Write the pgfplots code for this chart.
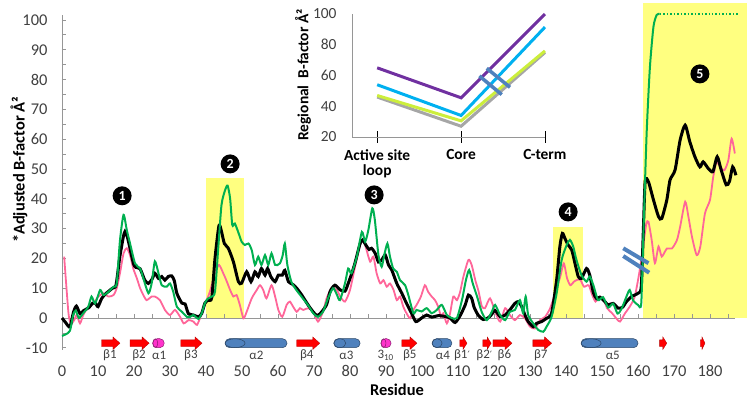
\documentclass[border=0pt]{standalone}
\usepackage{fontspec}
\setmainfont{Carlito}
\newfontfamily\dejavu{DejaVu Sans}
\usepackage{pgfplots}
\pgfplotsset{compat=1.18}
\definecolor{mygreen}{RGB}{0,176,80}
\definecolor{mypink}{RGB}{255,102,153}
\definecolor{hiyellow}{RGB}{255,255,128}
\definecolor{sblue}{RGB}{79,129,189}
\definecolor{ssred}{RGB}{255,0,0}
\definecolor{ssmag}{RGB}{255,51,204}
\definecolor{ipurple}{RGB}{112,48,160}
\definecolor{icyan}{RGB}{0,176,240}
\definecolor{ilime}{RGB}{204,238,60}
\definecolor{igray}{RGB}{166,166,166}
\definecolor{axisgray}{RGB}{150,150,150}
\definecolor{textgray}{RGB}{64,64,64}
\newcommand{\barrow}[3]{%
 \filldraw[fill=ssred, draw=ssred!70!black, line width=0.3bp]
 (axis cs:#1,-9.56) -- (axis cs:#2,-9.56) -- (axis cs:#2,-10.56) -- (axis cs:#3,-8.45) -- (axis cs:#2,-6.34) -- (axis cs:#2,-7.34) -- (axis cs:#1,-7.34) -- cycle;}
\newcommand{\helix}[5]{%
 \filldraw[fill=#3, draw=#3!55!black, line width=0.5bp, rounded corners=4.4bp] (axis cs:#1,-6.95) rectangle (axis cs:#2,-9.95);
 \draw[#3!55!black, line width=0.5bp] (axis cs:#4,-8.45) ellipse [x radius=#5, y radius=4.4bp];}
\newcommand{\ssl}[2]{\node[font=\fontsize{13}{14}\selectfont, text=textgray, inner sep=0pt] at (axis cs:#1,-12.4) {#2};}
\newcommand{\pr}{{\dejavu\fontsize{10}{10}\selectfont ′}}
\newcommand{\cnum}[3]{\node[circle, fill=black, text=white, inner sep=0pt, minimum size=19bp, font=\bfseries\fontsize{14}{15}\selectfont] at (axis cs:#1,#2) {#3};}
\begin{document}
\begin{tikzpicture}
\begin{axis}[name=main, at={(0,0)}, anchor=south west, scale only axis,
 width=673.2bp, height=335bp, xmin=0, xmax=187, ymin=-10.7, ymax=101.7,
 enlargelimits=false, clip=false,
 axis x line*=bottom, axis y line*=left,
 x axis line style={draw=none}, y axis line style={draw=axisgray, line width=0.8bp},
 xtick=\empty, ytick={-10,0,...,100}, minor y tick num=1,
 y tick style={axisgray, line width=0.8bp},
 tick align=inside, major tick length=4bp, minor tick length=4bp,
 ticklabel style={font=\fontsize{16.5}{18}\selectfont, text=textgray},
 /pgf/number format/assume math mode=true,
 yticklabel style={xshift=-11bp}]
% highlight regions
\addplot[fill=hiyellow, draw=none] coordinates {(40,0)(40,47)(50.5,47)(50.5,0)} -- cycle;
\addplot[fill=hiyellow, draw=none] coordinates {(136.4,0)(136.4,30.5)(144.7,30.5)(144.7,0)} -- cycle;
\addplot[fill=hiyellow, draw=none] coordinates {(161.4,0)(161.4,105.7)(190.3,105.7)(190.3,0)} -- cycle;
% zero line, ticks and tick labels
\addplot[axisgray, line width=0.8bp] coordinates {(0,0)(187,0)};
\pgfplotsinvokeforeach{5,10,...,185}{\draw[axisgray, line width=0.8bp] (axis cs:#1,0) -- (axis cs:#1,1.3);}
\pgfplotsinvokeforeach{0,10,...,180}{\node[font=\fontsize{16.5}{18}\selectfont, text=textgray, inner sep=0pt] at (axis cs:#1,-17.8) {#1};}
% pink
\addplot[mypink, line width=1.8bp, smooth, tension=0.4] coordinates {
(0.6,20.6) (1.8,1.6) (2.5,-1.8) (3.4,-0.7) (4.1,1) (5,-1.8) (5.9,1) (7.3,3.8) (8.7,4.9) (10.1,7.2) (11.5,8.3) (12.9,7.2) (14.3,7.7) (15.2,10) (16.1,15) (17.1,21.7) (18,23.4) (18.9,21.1) (19.8,16.6) (20.8,13.3) (21.7,10) (22.6,7.7) (23.5,6) (24.9,7.2) (25.8,7.2) (27.2,6) (28.6,2.7) (30,1) (31.4,2.7) (32.8,0.4) (33.8,-1.8) (35.2,-0.7) (36.5,-1.2) (37.5,-2.3) (38.5,0.5) (39.7,4.4) (41.1,8.9) (42.5,15) (43.6,17.8) (44.8,15) (45.8,12.2) (46.7,9.4) (47.6,7.2) (48.5,7.7) (49.4,4.4) (50.4,-0.1) (51.3,2.1) (52.7,6.6) (54.1,9.4) (55,11) (55.9,9.4) (56.8,6.6) (58.2,11) (59.2,7.2) (60.1,2.7) (61.2,0.4) (62.4,4.4) (63.3,5.5) (64.2,3.8) (65.2,2.1) (66.1,3.3) (67,2.7) (68.4,3.3) (69.8,2.1) (71.1,-1.2) (72.5,2.1) (73.5,6.6) (74.9,10) (76.3,9.4) (77.4,7) (78.6,5.5) (80,9.4) (81.4,17.2) (82.8,24.5) (83.7,26.2) (84.6,22.8) (85.6,18.9) (86.5,20.6) (87.4,15) (88.4,11.6) (89.3,12.7) (90.2,10.5) (91.1,11.6) (92.1,9.4) (93,6) (93.9,7.2) (94.8,3.8) (95.7,1.6) (96.7,-0.1) (97.6,2.7) (98.5,4.4) (99.7,7.2) (100.8,11) (101.7,8.8) (102.7,7.2) (103.6,6) (104.5,3.8) (105.3,0.4) (105.9,1.6) (106.9,-1.8) (107.8,1.6) (108.7,7.2) (109.7,6) (110.6,8.8) (111.5,13.9) (112.9,19.5) (113.8,17.8) (114.8,12.7) (115.7,9) (116.6,4) (117.5,3.3) (118.9,6.6) (120.3,2.1) (121.7,-1.2) (123.1,3.3) (124.4,1) (125.8,-0.7) (127.2,1) (128.6,-0.1) (130,-2.9) (131.4,-3.5) (132.8,-0.7) (134.2,0.4) (135.6,3.3) (137,8.3) (138.4,13.9) (139.4,18.3) (140.3,13.3) (141.2,11) (142.2,12.2) (143.1,12.8) (144,12.8) (145,10.5) (146.3,11) (147.3,7.7) (148.2,5.5) (149.1,6.6) (150.5,6) (151.4,3.3) (152.8,1.6) (154.1,-0.3) (155,-1.2) (156.4,1.6) (157.7,3.8) (159.1,7.2) (160.4,15.5) (161.4,24) (162.3,31.5) (162.9,32.3) (163.8,26.2) (164.7,18.4) (165.7,24) (166.6,20.6) (168,23.3) (169.4,23.3) (170.8,26.1) (171.7,30.6) (173.1,39) (174,34) (175,27.2) (176.3,21.1) (177.3,23.9) (178.6,35.1) (180,39.6) (180.9,47.4) (181.8,52.4) (182.8,50.7) (184,49.6) (185.1,53) (186,60.2) (186.9,55.2)};
% black
\addplot[black, line width=3bp, smooth, tension=0.4] coordinates {
(0,0) (1,-1.5) (2.2,-3) (3.2,2) (4,4) (5,1.5) (6,2.5) (7.5,3.5) (8.5,5) (9.3,5) (10,3.8) (11,6.5) (12,8) (13,9) (14,10) (15,11) (16,20) (17,27) (17.5,29) (18.2,27) (19.8,18.5) (20.5,17) (21.7,16.5) (23,12.7) (24,11.6) (25,13) (25.8,15) (26.8,13.3) (27.7,13.9) (28.6,12.7) (29.5,13.9) (30.5,14.1) (31.2,12.5) (31.9,8.3) (33.3,5) (34.2,4.7) (35.1,1.5) (36.5,1) (37.9,0.4) (38.8,1.5) (39.7,5) (40.6,6) (41.6,6.8) (42.5,20) (43.6,31) (44.3,29) (45.1,25) (46.2,23.4) (47.6,18.9) (49,12.2) (49.9,11.7) (51.3,15.5) (52.5,12.2) (53.6,15.5) (54.5,13.9) (55.4,16.6) (56.4,14.4) (57.1,16.6) (58,13.9) (59.2,12.2) (60.1,14.4) (61.2,14.4) (61.9,16) (62.9,12.2) (64.2,11.2) (65.2,10) (66.6,7.7) (68.4,4.3) (69.8,2) (70.9,0.8) (72.1,2) (73.5,4.5) (74.5,9) (75.8,11) (77.2,9.5) (78.6,9) (79.5,11.6) (80.5,15) (81.4,18.5) (82.8,25) (83.5,26.2) (84.4,24.5) (85.3,23) (86,23.4) (87,21.7) (87.9,18.8) (88.8,19.5) (89.8,21.1) (90.7,17.8) (91.6,16.1) (93,11.6) (94.4,8.3) (95.7,4.9) (97.1,1.6) (98.3,-1.2) (99.9,0) (101.3,1) (102.7,0.3) (104.5,0.8) (106.5,0.5) (107.8,0) (109.2,-1.5) (110.6,0.8) (112,4.4) (112.9,7.7) (113.8,6.6) (114.5,3.5) (115.7,0.8) (117,-0.5) (118.3,0) (119.2,1) (120.3,2.5) (121.7,0.5) (123.1,1) (124.4,2.7) (125.8,4.9) (126.8,5.5) (127.7,3.8) (128.6,1) (129.5,-1.2) (130.9,-2.9) (131.8,-1.8) (133.2,-1.2) (134.6,-0.1) (136,1.6) (137.4,12.8) (138.3,24) (139,28.4) (139.7,26.7) (140.6,24.5) (141.6,22.8) (142.5,18.3) (143.4,13.9) (144.3,13.3) (145.7,16.6) (146.6,14.4) (147.6,8.5) (148.5,6.5) (149.4,7) (150.8,5.5) (151.7,4.4) (153.1,4.9) (154.5,3.3) (155.7,3.6) (156.8,5.5) (158.2,7.2) (160,8.3) (160.9,10.5) (161.5,30) (162,46) (162.9,45.7) (164.3,39.6) (165.7,34) (166.6,33.4) (168,39.6) (168.9,46.3) (170.3,49.7) (171.7,59.7) (173.1,64.7) (174.4,59.1) (175.8,54.1) (177.2,50.7) (178.1,52.4) (179.5,50.2) (180.8,49.1) (182,54.1) (183.1,49.7) (184.5,44.7) (185.4,45.8) (186.3,50.7) (187.2,47.9)};
% green
\addplot[mygreen, line width=2bp, smooth, tension=0.4] coordinates {
(0,-6) (1,-5.5) (2.2,-4.3) (3.1,1) (3.8,2.5) (4.7,0) (5.9,1.6) (7.3,3.8) (8.2,7.2) (9.2,4.9) (10.6,9.4) (11.5,7.7) (12.9,8.8) (14.3,10.5) (15.2,11.6) (16.1,26) (17.1,34.6) (18,29.5) (18.9,25) (20.3,18.3) (21.7,16.6) (22.6,13.3) (24,8.3) (24.9,11.6) (25.8,19) (26.8,15) (27.7,11) (29.1,10.5) (30,11.6) (30.9,8.8) (31.9,3.8) (33.3,2.1) (34.7,0.4) (35.6,0.4) (36.5,1) (37.9,-0.3) (38.8,1.5) (39.7,5) (40.5,6.5) (41.6,7.2) (42.5,8.9) (43.4,23.4) (44.3,37.9) (45.3,42.9) (46,44.4) (46.7,40.1) (47.3,31.2) (48,31.7) (48.9,29) (49.9,25.6) (50.8,24.5) (51.8,25) (52.7,22.8) (53.6,17.8) (54.5,20.6) (55.4,17.8) (56.4,21.1) (57.3,17.8) (58.2,21.7) (59.2,17.8) (60.5,18.3) (61.3,21) (61.9,25) (62.6,17.8) (63.7,12.2) (65.1,9.4) (66.5,7.2) (68.3,4.4) (69.8,1.6) (71.1,0.4) (72.5,2.1) (73.9,6.6) (75.3,10) (76.3,8) (77.2,6) (78.6,11.6) (79.5,16.6) (80.4,15) (81.9,20.6) (83.3,28.9) (84.2,25.6) (85.1,29.5) (86.2,36.8) (86.9,32.9) (87.9,21.1) (88.8,17.2) (89.5,21.1) (90.4,25) (91.1,20.6) (92,16.6) (93,15.5) (93.9,12.7) (95.3,11) (96.2,7.7) (97.6,1.6) (98.5,2.7) (99.9,2.2) (101.3,3.3) (102.7,1.6) (104.1,2.7) (105.5,4.4) (106.9,1) (108.3,0) (109.7,0) (111.1,6) (112.2,12.7) (113.1,16.1) (114.1,11.6) (115.3,7.2) (116.6,2) (118,-0.7) (119.4,2.1) (120.3,4.4) (121.7,1) (123.1,-0.7) (124.4,2.1) (125.8,2.7) (127.2,6) (128.1,1.6) (128.8,7.2) (129.5,1) (130.9,-1.8) (132.3,-4) (133.7,-4.6) (134.6,-2.9) (136,0.4) (137.4,8.3) (138.8,19.5) (140.2,24.5) (141.1,26.2) (142,24) (142.9,19.5) (144.3,14.4) (145.7,12.2) (146.6,13.9) (147.6,11) (148.9,6) (150.3,7) (151.7,3.5) (153.1,4.8) (154.3,1.5) (155.4,3) (156.8,7.2) (157.7,9.4) (158.6,6) (160,4.4) (160.9,4.9) (161.5,28.4) (162.4,62) (163.3,84) (164.3,97.8) (165.2,101.7) (166,102)};
\addplot[mygreen, line width=1.5bp, dotted] coordinates {(166,102) (188.3,102)};
% break marks
\addplot[sblue, line width=4bp] coordinates {(155.9,23.4) (162.9,18.4)};
\addplot[sblue, line width=4bp] coordinates {(155.9,20.8) (163.1,15.2)};
% circled numbers
\cnum{16.7}{41}{1}
\cnum{46.7}{51.7}{2}
\cnum{86.7}{41.3}{3}
\cnum{140.6}{35.6}{4}
\cnum{177.2}{81.9}{5}
% secondary structure
\barrow{11}{14.16}{16.1}
\barrow{18.9}{22.26}{24.2}
\barrow{33}{36.96}{38.9}
\barrow{65.2}{69.66}{71.6}
\barrow{94.4}{96.66}{98.6}
\barrow{110.5}{111.4}{112.5}
\barrow{116.9}{118.1}{119.2}
\barrow{119.7}{123.06}{125}
\barrow{130.8}{134.06}{136}
\barrow{166}{166.9}{168}
\barrow{177.3}{177.77}{178.6}
\helix{25.2}{28.4}{ssmag}{25.9}{2.5bp}
\helix{88.6}{91.4}{ssmag}{89.3}{2.5bp}
\helix{45.3}{62.5}{sblue}{48.08}{10bp}
\helix{75.5}{82.8}{sblue}{77.17}{6bp}
\helix{102.8}{108.3}{sblue}{104.19}{5bp}
\helix{144.2}{160}{sblue}{146.98}{10bp}
\ssl{13.3}{β1}
\ssl{21.4}{β2}
\ssl{27}{α1}
\ssl{35.8}{β3}
\ssl{54}{α2}
\ssl{68}{β4}
\ssl{79}{α3}
\ssl{89.9}{3\textsubscript{10}}
\ssl{96.6}{β5}
\ssl{105.8}{α4}
\ssl{111.1}{β1\pr}
\ssl{117.3}{β2\pr}
\ssl{122.9}{β6}
\ssl{133}{β7}
\ssl{153}{α5}
\end{axis}
\node[rotate=90, font=\bfseries\fontsize{16.5}{18}\selectfont] at (-43bp,180bp) {*Adjusted B-factor Å²};
\node[font=\bfseries\fontsize{16.5}{18}\selectfont] at (335bp,-40bp) {Residue};
\begin{axis}[name=inset, at={(290bp,212.9bp)}, anchor=south west, scale only axis,
 width=193bp, height=123bp, xmin=-0.3, xmax=2, ymin=20, ymax=100,
 enlargelimits=false, clip=false, axis lines*=left,
 axis line style={draw=axisgray, line width=0.8bp},
 xtick={0,1,2}, xticklabels={{Active site\\loop},Core,C-term},
 ytick={20,40,...,100}, major y tick style={draw=none},
 major x tick style={draw=black, line width=1bp}, xtick align=center, major tick length=12bp,
 ticklabel style={font=\fontsize{15.5}{16}\selectfont, text=textgray},
 xticklabel style={font=\bfseries\fontsize{15.5}{15}\selectfont, text=black, align=center, yshift=-3bp},
 /pgf/number format/assume math mode=true,
 yticklabel style={xshift=-12bp}]
\addplot[igray, line width=3bp] coordinates {(0,46)(1,27)(2,75)};
\addplot[ilime, line width=3bp] coordinates {(0,47)(1,30.5)(2,76)};
\addplot[icyan, line width=3bp] coordinates {(0,54)(1,34)(2,91.5)};
\addplot[ipurple, line width=3bp] coordinates {(0,65)(1,45.5)(2,100)};
\addplot[sblue, line width=3.5bp] coordinates {(1.306,64.7)(1.583,52.3)};
\addplot[sblue, line width=3.5bp] coordinates {(1.218,59.7)(1.484,47.6)};
\end{axis}
\node[rotate=90, font=\bfseries\fontsize{15.5}{16}\selectfont] at (241bp,275bp) {Regional~ B-factor Å²};
\pgfresetboundingbox
\path (-62bp,-50.1bp) rectangle (688bp,349.9bp);
\end{tikzpicture}
\end{document}
